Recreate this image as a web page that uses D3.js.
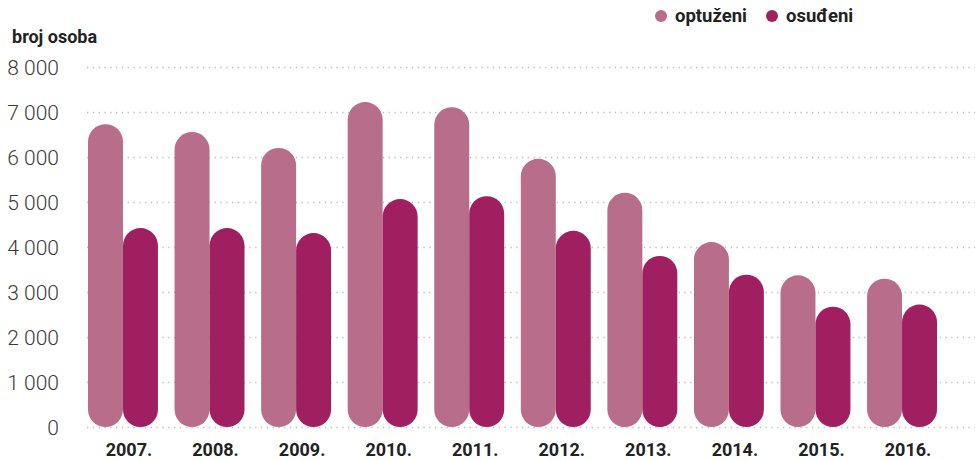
<!DOCTYPE html>
<html>
<head>
<meta charset="utf-8">
<script src="https://cdn.jsdelivr.net/npm/d3@7"></script>
<style>
  body { margin: 0; background: #fff; }
  svg { font-family: Roboto, "Noto Sans", sans-serif; }
</style>
</head>
<body>
<svg id="chart" width="975" height="460"></svg>
<script>
// podaci
var years = ["2007.", "2008.", "2009.", "2010.", "2011.", "2012.", "2013.", "2014.", "2015.", "2016."];
var optuzeni = [6730, 6555, 6200, 7220, 7105, 5960, 5205, 4110, 3370, 3295];
var osudeni = [4420, 4420, 4310, 5065, 5130, 4360, 3800, 3385, 2675, 2720];
var seriesNames = ["optuženi", "osuđeni"];
var yTicks = [0, 1000, 2000, 3000, 4000, 5000, 6000, 7000, 8000];

var colors = ["#b86d8a", "#a01f61"];

var svg = d3.select("#chart"),
    width = 975,
    height = 460;

var y = d3.scaleLinear().domain([0, 8000]).range([427, 67]);

var x0 = d3.scaleBand()
    .domain(years)
    .range([88, 937])
    .paddingInner(0.192)
    .paddingOuter(0);

var x1 = d3.scaleBand()
    .domain(seriesNames)
    .range([0, x0.bandwidth()])
    .padding(0);

var color = d3.scaleOrdinal().domain(seriesNames).range(colors);

// mreža
svg.append("g")
    .selectAll("line")
    .data(yTicks)
    .enter().append("line")
    .attr("x1", 87)
    .attr("x2", width)
    .attr("y1", function(d) { return y(d) + 0.5; })
    .attr("y2", function(d) { return y(d) + 0.5; })
    .attr("stroke", "#bdbdbd")
    .attr("stroke-width", 1.3)
    .attr("stroke-dasharray", "1.3,4.5");

// oznake osi y
var fmt = function(d) { return d3.format(",")(d).replace(/,/g, " "); };
svg.append("g")
    .selectAll("text")
    .data(yTicks)
    .enter().append("text")
    .attr("x", 59)
    .attr("y", function(d) { return y(d); })
    .attr("dy", "0.36em")
    .attr("text-anchor", "end")
    .attr("font-size", 21)
    .attr("font-weight", 300)
    .attr("fill", "#3a3a3a")
    .text(fmt);

svg.append("text")
    .attr("x", 12)
    .attr("y", 43)
    .attr("font-size", 18)
    .attr("font-weight", 700)
    .attr("fill", "#222")
    .text("broj osoba");

// stupci
var table = years.map(function(yr, i) {
    return { year: yr, values: [
        { key: "optuženi", value: optuzeni[i] },
        { key: "osuđeni", value: osudeni[i] }
    ] };
});

var groups = svg.append("g")
    .selectAll("g")
    .data(table)
    .enter().append("g")
    .attr("transform", function(d) { return "translate(" + x0(d.year) + ",0)"; });

groups.selectAll("rect")
    .data(function(d) { return d.values; })
    .enter().append("rect")
    .attr("x", function(d) { return x1(d.key); })
    .attr("width", x1.bandwidth())
    .attr("y", function(d) { return y(d.value); })
    .attr("height", function(d) { return y(0) - y(d.value); })
    .attr("rx", x1.bandwidth() / 2)
    .attr("ry", x1.bandwidth() / 2)
    .attr("fill", function(d) { return color(d.key); });

// oznake osi x (malo pomaknute udesno kao u originalu)
svg.append("g")
    .selectAll("text")
    .data(years)
    .enter().append("text")
    .attr("x", function(d) { return x0(d) + x0.bandwidth() / 2 + 6; })
    .attr("y", 456)
    .attr("text-anchor", "middle")
    .attr("font-size", 18)
    .attr("font-weight", 700)
    .attr("fill", "#222")
    .text(function(d) { return d; });

// legenda
var legendX = [661, 772];
var legend = svg.append("g")
    .selectAll("g")
    .data(seriesNames)
    .enter().append("g")
    .attr("transform", function(d, i) { return "translate(" + legendX[i] + ",16)"; });

legend.append("circle")
    .attr("r", 6)
    .attr("fill", function(d) { return color(d); });

legend.append("text")
    .attr("x", 14)
    .attr("dy", "0.35em")
    .attr("font-size", 18.5)
    .attr("font-weight", 700)
    .attr("fill", "#222")
    .text(function(d) { return d; });
</script>
</body>
</html>
